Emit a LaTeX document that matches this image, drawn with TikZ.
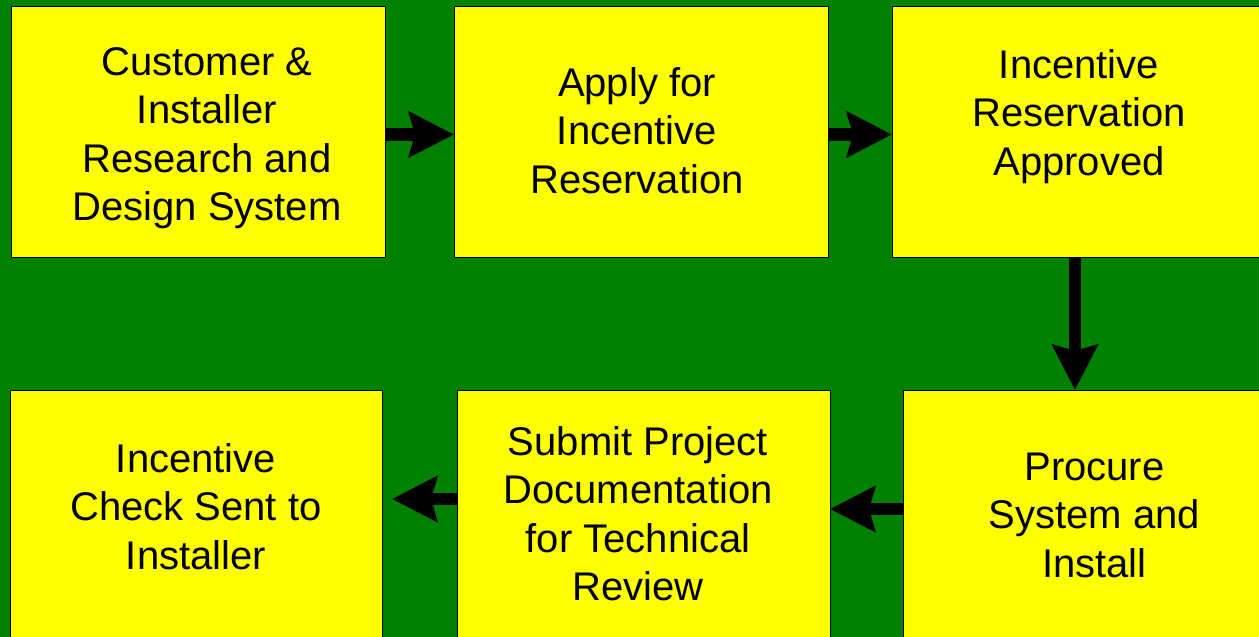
\documentclass[tikz,border=0pt]{standalone}
\usepackage{fontspec}
\setmainfont{Liberation Sans}
\usetikzlibrary{arrows.meta}
\definecolor{bg}{HTML}{008000}
\definecolor{boxfill}{HTML}{FFFF00}
\begin{document}
\begin{tikzpicture}[x=1pt,y=-1pt,
  box/.style={draw=black, line width=1pt, fill=boxfill, rectangle, inner sep=0pt, outer sep=0pt},
  lbl/.style={anchor=north, align=center, inner sep=0pt, outer sep=0pt, font=\fontsize{40}{48.5}\selectfont, text=black},
  arr/.style={draw=black, line width=12.5pt, -{Stealth[length=45pt,width=45pt,inset=6pt]}}]
\useasboundingbox (0,0) rectangle (1259,637);
\clip (0,0) rectangle (1259,637);
\fill[bg] (0,0) rectangle (1259,637);
% boxes
\node[box, minimum width=374pt, minimum height=251pt] (b1) at (198,131.5) {};
\node[box, minimum width=374pt, minimum height=251pt] (b2) at (641,131.5) {};
\node[box, minimum width=398pt, minimum height=251pt] (b3) at (1091,131.5) {};
\node[box, minimum width=372pt, minimum height=270pt] (b4) at (196,525) {};
\node[box, minimum width=373pt, minimum height=270pt] (b5) at (643.5,525) {};
\node[box, minimum width=387pt, minimum height=270pt] (b6) at (1096.5,525) {};
% labels
\node[lbl] (t1) at (207,45) {\rule{0pt}{30pt}Customer \&\\Installer\\Research and\\Design System};
\node[lbl] (t2) at (637,66) {\rule{0pt}{30pt}Apply for\\Incentive\\Reservation};
\node[lbl] (t3) at (1079,48) {\rule{0pt}{30pt}Incentive\\Reservation\\Approved};
\node[lbl] (t4) at (196,442) {\rule{0pt}{30pt}Incentive\\Check Sent to\\Installer};
\node[lbl] (t5) at (638,425) {\rule{0pt}{30pt}Submit Project\\Documentation\\for Technical\\Review};
\node[lbl] (t6) at (1094.5,450) {\rule{0pt}{30pt}Procure\\System and\\Install};
% connectors
\draw[arr] (b1.east |- 0,134.5) -- (b2.west |- 0,134.5);
\draw[arr] (b2.east |- 0,134.5) -- (b3.west |- 0,134.5);
\draw[arr] (b3.south -| 1075,0) -- (b6.north -| 1075,0);
\draw[arr] (b6.west |- 0,509) -- (b5.east |- 0,509);
\draw[arr, shorten >=10pt] (b5.west |- 0,499) -- (b4.east |- 0,499);
\end{tikzpicture}
\end{document}
